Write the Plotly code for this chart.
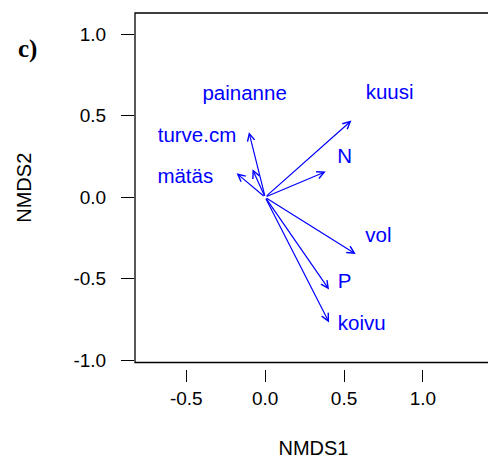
import plotly.graph_objects as go

# Biplot vectors (arrow tips)
variables = ["kuusi", "N", "vol", "P", "koivu", "painanne", "turve.cm", "mätäs"]
vec_x = [0.547, 0.384, 0.574, 0.405, 0.405, -0.103, -0.080, -0.181]
vec_y = [0.470, 0.157, -0.349, -0.566, -0.768, 0.399, 0.171, 0.147]

# Label positions
lab_x = [0.789, 0.504, 0.718, 0.504, 0.612, -0.130, -0.432, -0.506]
lab_y = [0.633, 0.241, -0.245, -0.524, -0.785, 0.628, 0.367, 0.118]

x_ticks = [-0.5, 0.0, 0.5, 1.0]
x_ticklabels = ["-0.5", "0.0", "0.5", "1.0"]
y_ticks = [-1.0, -0.5, 0.0, 0.5, 1.0]
y_ticklabels = ["-1.0", "-0.5", "0.0", "0.5", "1.0"]

BLUE = "#0000FF"
SANS = "Liberation Sans, Arial, sans-serif"

fig = go.Figure()

fig.add_trace(go.Scatter(
    x=lab_x, y=lab_y, text=variables, mode="text",
    textposition="middle center",
    textfont=dict(family=SANS, size=20.5, color=BLUE),
    hoverinfo="skip", showlegend=False,
))

for vx, vy in zip(vec_x, vec_y):
    fig.add_annotation(
        x=vx, y=vy, ax=0, ay=0, xref="x", yref="y", axref="x", ayref="y",
        text="", showarrow=True, arrowhead=5, arrowsize=1.2, arrowwidth=1.2,
        arrowcolor=BLUE, standoff=0,
    )

# panel letter
fig.add_annotation(
    x=-0.302, y=0.8997, xref="paper", yref="paper", text="<b>c)</b>",
    showarrow=False, xanchor="center", yanchor="middle",
    font=dict(family="Liberation Serif, Times New Roman, serif", size=25, color="black"),
)

# frame box
fig.add_shape(type="rect", xref="x domain", yref="y domain", x0=0, x1=1, y0=0, y1=1,
              line=dict(color="black", width=1.3))

# page body has an 8px margin, so the figure is sized to the remaining window
fig.update_layout(
    width=488, height=451,
    margin=dict(l=127, r=3.5, t=5.3, b=90, pad=0),
    paper_bgcolor="white", plot_bgcolor="white",
    font=dict(family=SANS, color="black"),
    xaxis=dict(
        range=[-0.825, 1.438], anchor="free", position=0,
        tickvals=x_ticks, ticktext=x_ticklabels, ticks="outside", ticklen=12,
        tickwidth=1, tickcolor="black", showgrid=False, zeroline=False, showline=False,
        tickfont=dict(family=SANS, size=19, color="black"),
        title=dict(text="NMDS1", font=dict(family=SANS, size=20, color="black"), standoff=33),
        automargin=False,
    ),
    yaxis=dict(
        range=[-1.014, 1.130], domain=[0.0183, 1],
        tickvals=y_ticks, ticktext=y_ticklabels, ticks="outside", ticklen=13,
        tickwidth=1, tickcolor="black", showgrid=False, zeroline=False, showline=False,
        ticklabelstandoff=11,
        tickfont=dict(family=SANS, size=19, color="black"),
        title=dict(text="NMDS2", font=dict(family=SANS, size=20, color="black"), standoff=36),
        automargin=False,
    ),
)

fig.write_html("out.html")
